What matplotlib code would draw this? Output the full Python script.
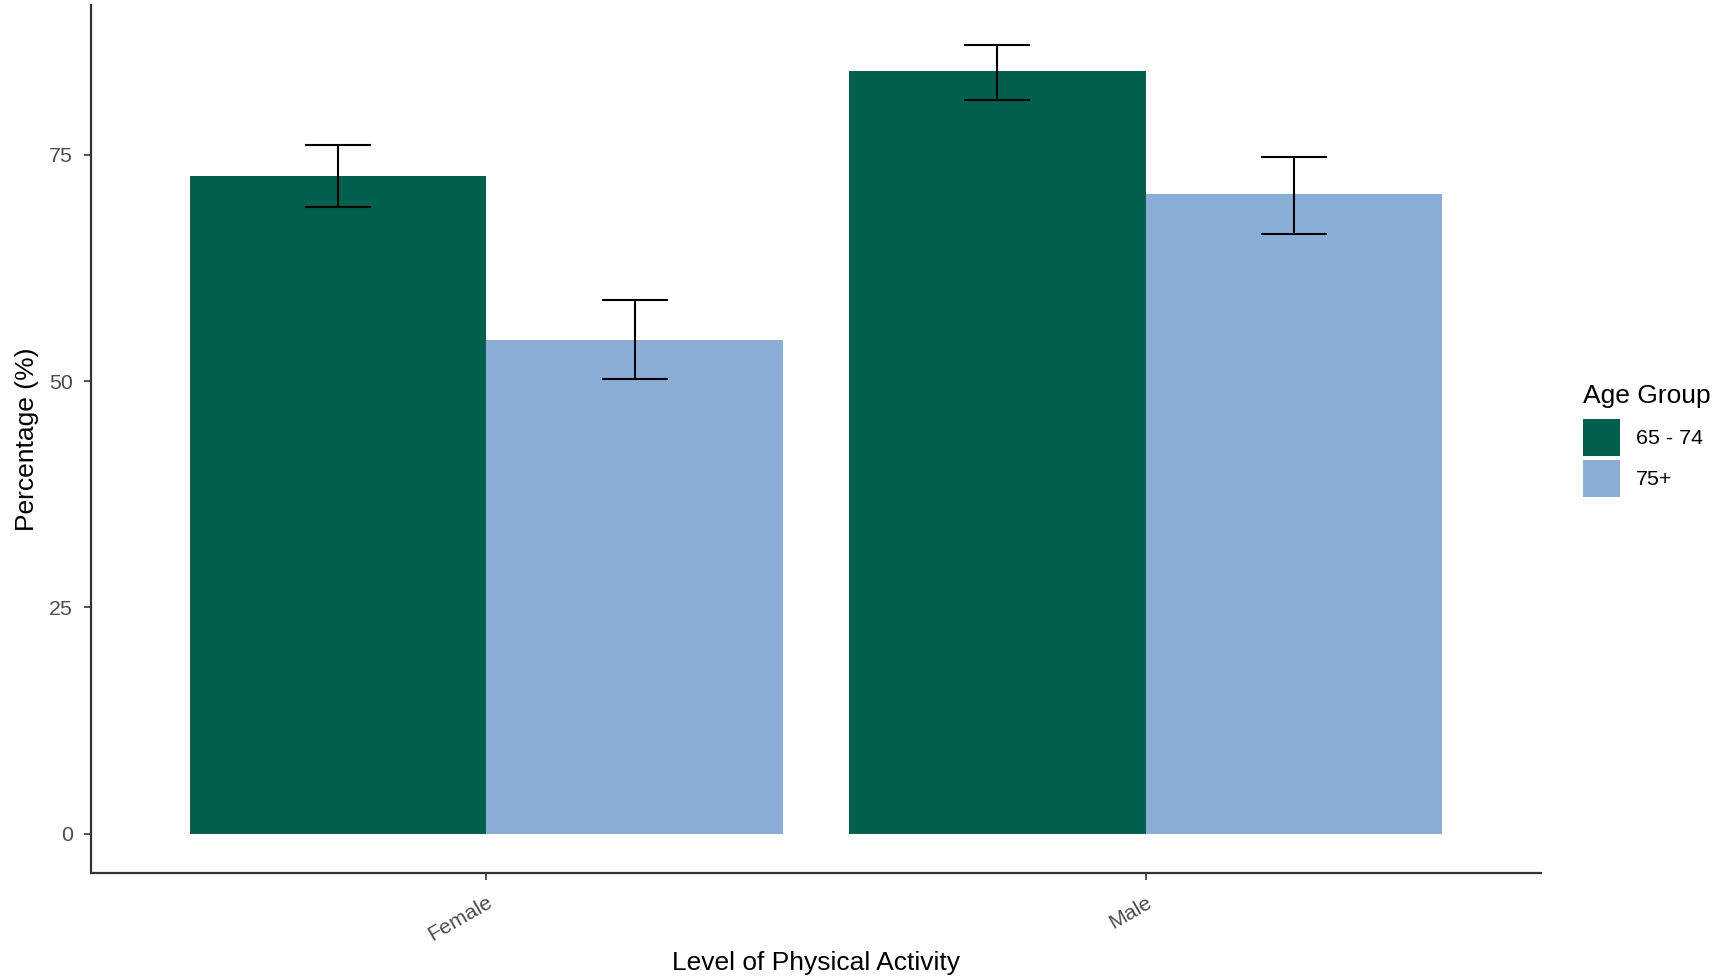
import matplotlib
matplotlib.use("Agg")
import matplotlib.pyplot as plt
import numpy as np

plt.rcParams['font.family'] = ['Liberation Sans', 'DejaVu Sans']

categories = ["Female", "Male"]
groups = ["65 - 74", "75+"]
values_6574 = [72.7, 84.3]
values_75 = [54.5, 70.7]
err_low_6574 = [69.2, 81.1]
err_high_6574 = [76.1, 87.1]
err_low_75 = [50.2, 66.2]
err_high_75 = [59.0, 74.8]
yticks = [0, 25, 50, 75]

colors = ["#00604E", "#8AAED6"]

fig = plt.figure(figsize=(17.16, 9.80), dpi=100)
W, H = 1716, 980
ax_l, ax_r, ax_t, ax_b = 91, 1541, 5.5, 873
ax = fig.add_axes([ax_l / W, 1 - ax_b / H, (ax_r - ax_l) / W, (ax_b - ax_t) / H])

x = np.arange(1, len(categories) + 1)
bw = 0.45
series = [(values_6574, err_low_6574, err_high_6574),
          (values_75, err_low_75, err_high_75)]
handles = []
for i, (vals, lo, hi) in enumerate(series):
    xs = x + (i - 0.5) * bw
    h = ax.bar(xs, vals, width=bw, color=colors[i], label=groups[i], zorder=2)
    handles.append(h)
    vals_a = np.array(vals)
    yerr = [vals_a - np.array(lo), np.array(hi) - vals_a]
    ax.errorbar(xs, vals, yerr=yerr, fmt='none', ecolor='black',
                elinewidth=1.5, capsize=23.8, capthick=1.5, zorder=3)

ax.set_xlim(0.4, 2.6)
ax.set_ylim(-4.36, 91.5)
ax.set_yticks(yticks)
ax.set_xticks(x)
ax.set_xticklabels(categories, rotation=30, ha='right', rotation_mode='anchor')

for s in ['top', 'right']:
    ax.spines[s].set_visible(False)
for s in ['left', 'bottom']:
    ax.spines[s].set_color('#333333')
    ax.spines[s].set_linewidth(1.6)

ax.tick_params(axis='both', colors='#333333', length=5, width=1.2,
               labelsize=15.4, labelcolor='#4D4D4D')
ax.tick_params(axis='y', pad=8)
ax.tick_params(axis='x', pad=9)

ax.set_xlabel("Level of Physical Activity", fontsize=19, color='black')
ax.set_ylabel("Percentage (%)", fontsize=19, color='black')
ax.xaxis.set_label_coords(0.5, -(963 - ax_b) / (ax_b - ax_t))
ax.xaxis.label.set_va('center')
ax.yaxis.set_label_coords(-(ax_l - 27) / (ax_r - ax_l), 0.5)
ax.yaxis.label.set_va('center')

leg = ax.legend(handles=handles, labels=groups, title="Age Group",
                frameon=False, fontsize=15.4, title_fontsize=19,
                handlelength=1.73, handleheight=2.285, handletextpad=0.75,
                labelspacing=0.2, borderpad=0.31, borderaxespad=0,
                alignment='left', loc='upper left',
                bbox_to_anchor=((1583 - 6.6) / W, 1 - 377 / H),
                bbox_transform=fig.transFigure)
# extra gap between legend title and keys
leg._legend_box.sep = 8.0

fig.savefig("out.png", dpi=100, facecolor='white')
